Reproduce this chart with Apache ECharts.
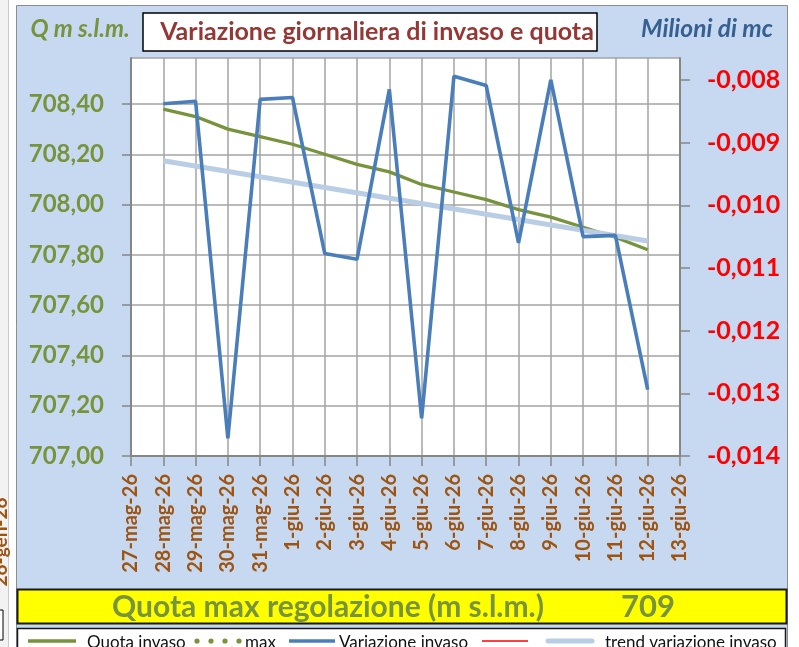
<!DOCTYPE html>
<html><head><meta charset="utf-8">
<script src="https://cdn.jsdelivr.net/npm/echarts@6/dist/echarts.min.js"></script>
<style>html,body{margin:0;padding:0;background:#fff}#c{width:799px;height:647px}</style>
</head><body><div id="c"></div>
<script>
// ---- data ----
const categories = ['27-mag-26','28-mag-26','29-mag-26','30-mag-26','31-mag-26','1-giu-26','2-giu-26','3-giu-26','4-giu-26','5-giu-26','6-giu-26','7-giu-26','8-giu-26','9-giu-26','10-giu-26','11-giu-26','12-giu-26','13-giu-26'];
const quotaInvaso = [null,708.38,708.35,708.30,708.27,708.24,708.20,708.16,708.13,708.08,708.05,708.02,707.98,707.95,707.91,707.87,707.82,null];
const variazioneInvaso = [null,-0.00838,-0.00834,-0.01372,-0.00831,-0.00828,-0.01077,-0.01086,-0.00815,-0.01340,-0.00794,-0.00809,-0.01060,-0.00800,-0.01050,-0.01048,-0.01294,null];
const trendVariazione = [null,-0.00929,null,null,null,null,null,null,null,null,null,null,null,null,null,null,-0.01057,null];
const leftTicks = {min:707.0, max:708.583, step:0.2};
const rightTicks = {min:-0.014, max:-0.00765, step:0.001};
const quotaMax = '709';

const FONT = 'Lato';
const GREEN = '#77933c', BLUE = '#4a7ebb', TREND = '#b9cde5', BG = '#c6d9f1', BROWN = '#9e5410';
const GRID = '#a3a3a3', AXIS = '#868686';

const chart = echarts.init(document.getElementById('c'), null, {renderer:'canvas'});
const option = {
  animation: false,
  textStyle: {fontFamily: FONT},
  grid: {left:131, right:119, top:58, bottom:191, show:true, backgroundColor:'#fff', borderWidth:0, containLabel:false},
  xAxis: {
    type:'category', data: categories, boundaryGap:false,
    axisLine:{show:true, lineStyle:{color:AXIS, width:2}},
    axisTick:{show:true, interval:0, length:10, lineStyle:{color:AXIS, width:1.5}},
    axisLabel:{interval:0, rotate:90, margin:18, color:BROWN, fontFamily:FONT, fontSize:20, fontWeight:'bold'},
    splitLine:{show:true, interval:0, lineStyle:{color:GRID, width:1.5}}
  },
  yAxis: [
    {
      type:'value', position:'left', min:leftTicks.min, max:leftTicks.max, interval:leftTicks.step,
      axisLine:{show:true, lineStyle:{color:AXIS, width:2}},
      axisTick:{show:true, length:9, lineStyle:{color:AXIS, width:1.5}},
      axisLabel:{margin:27, color:GREEN, fontFamily:FONT, fontSize:24, fontWeight:'bold', showMaxLabel:false,
        formatter: v => v.toFixed(2).replace('.', ',')},
      splitLine:{show:true, lineStyle:{color:GRID, width:1.5}}
    },
    {
      type:'value', position:'right', min:rightTicks.min, max:rightTicks.max, interval:rightTicks.step,
      axisLine:{show:true, lineStyle:{color:AXIS, width:2}},
      axisTick:{show:true, length:10, lineStyle:{color:AXIS, width:1.5}},
      axisLabel:{margin:27, color:'#ff0000', fontFamily:FONT, fontSize:25, fontWeight:'bold', showMaxLabel:false,
        formatter: v => v.toFixed(3).replace('.', ',')},
      splitLine:{show:false}
    }
  ],
  series: [
    {name:'Quota invaso', type:'line', yAxisIndex:0, data:quotaInvaso, symbol:'none', smooth:false,
      lineStyle:{color:GREEN, width:3.3}, z:2},
    {name:'trend variazione invaso', type:'line', yAxisIndex:1, data:trendVariazione, connectNulls:true, symbol:'none',
      lineStyle:{color:TREND, width:5}, z:3},
    {name:'Variazione invaso', type:'line', yAxisIndex:1, data:variazioneInvaso, symbol:'none',
      lineStyle:{color:BLUE, width:3.6}, z:4}
  ],
  graphic: [
    // page edge at left
    {type:'rect', z:-10, shape:{x:0, y:0, width:799, height:647}, style:{fill:'#fff'}},
    {type:'rect', z:-9, shape:{x:0, y:0, width:8, height:647}, style:{fill:'#f2f2f2'}},
    {type:'line', z:-8, shape:{x1:8.5, y1:0, x2:8.5, y2:647}, style:{stroke:'#c8c8c8', lineWidth:1}},
    {type:'text', z:-8, x:1, y:542, rotation:Math.PI/2, style:{text:'26-gen-26', fill:BROWN, font:'bold 19px '+FONT, align:'center', verticalAlign:'middle'}},
    {type:'rect', z:-8, shape:{x:-2, y:610, width:5, height:30}, style:{fill:'#fff', stroke:'#000', lineWidth:1}},
    // chart area
    {type:'rect', z:-5, shape:{x:16.5, y:5.5, width:771, height:650}, style:{fill:BG, stroke:'#8c8c8c', lineWidth:1}},
    // title box
    {type:'rect', z:5, shape:{x:143, y:13, width:454, height:38}, style:{fill:'#fff', stroke:'#000', lineWidth:1.5}},
    {type:'text', z:6, x:377, y:32, style:{text:'Variazione giornaliera di invaso e quota', fill:'#953735', font:'bold 25px '+FONT, align:'center', verticalAlign:'middle'}},
    {type:'text', z:6, x:80, y:29, style:{text:'Q m s.l.m.', fill:GREEN, font:'italic bold 24px '+FONT, align:'center', verticalAlign:'middle'}},
    {type:'text', z:6, x:707, y:29, style:{text:'Milioni di mc', fill:'#376092', font:'italic bold 24.5px '+FONT, align:'center', verticalAlign:'middle'}},
    // yellow box
    {type:'rect', z:5, shape:{x:17.5, y:589.5, width:769, height:34}, style:{fill:'#ffff00', stroke:'#1a1a1a', lineWidth:2}},
    {type:'text', z:6, x:328, y:607, style:{text:'Quota max regolazione (m s.l.m.)', fill:GREEN, font:'bold 30px '+FONT, align:'center', verticalAlign:'middle'}},
    {type:'text', z:6, x:648, y:607, style:{text:quotaMax, fill:GREEN, font:'bold 31px '+FONT, align:'center', verticalAlign:'middle'}},
    // legend box
    {type:'rect', z:5, shape:{x:17.5, y:628.5, width:768, height:30}, style:{fill:'#fff', stroke:'#1a1a1a', lineWidth:1.5}},
    {type:'line', z:6, shape:{x1:28, y1:641, x2:76, y2:641}, style:{stroke:GREEN, lineWidth:3.5}},
    {type:'text', z:6, x:87, y:643, style:{text:'Quota invaso', fill:'#111', font:'17px '+FONT, align:'left', verticalAlign:'middle'}},
    {type:'circle', z:6, shape:{cx:197, cy:641, r:2.6}, style:{fill:GREEN}},
    {type:'circle', z:6, shape:{cx:211, cy:641, r:2.6}, style:{fill:GREEN}},
    {type:'circle', z:6, shape:{cx:225, cy:641, r:2.6}, style:{fill:GREEN}},
    {type:'circle', z:6, shape:{cx:239, cy:641, r:2.6}, style:{fill:GREEN}},
    {type:'text', z:6, x:245, y:643, style:{text:'max', fill:'#111', font:'17px '+FONT, align:'left', verticalAlign:'middle'}},
    {type:'line', z:6, shape:{x1:289, y1:641, x2:335, y2:641}, style:{stroke:BLUE, lineWidth:3.5}},
    {type:'text', z:6, x:339, y:643, style:{text:'Variazione invaso', fill:'#111', font:'17px '+FONT, align:'left', verticalAlign:'middle'}},
    {type:'line', z:6, shape:{x1:482, y1:641, x2:528, y2:641}, style:{stroke:'#ff0000', lineWidth:1.5}},
    {type:'line', z:6, shape:{x1:548, y1:641, x2:592, y2:641}, style:{stroke:TREND, lineWidth:5, lineCap:'round'}},
    {type:'text', z:6, x:605, y:643, style:{text:'trend variazione invaso', fill:'#111', font:'17px '+FONT, align:'left', verticalAlign:'middle'}}
  ]
};
chart.setOption(option);
</script>
</body></html>
